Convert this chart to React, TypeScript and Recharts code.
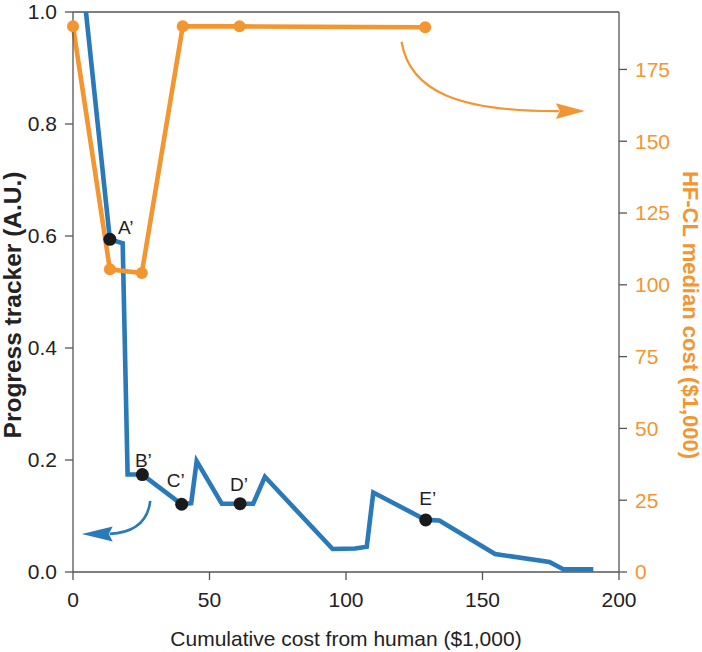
import React from "react";
import {
  ComposedChart,
  Line,
  Scatter,
  XAxis,
  YAxis,
  ReferenceLine,
  ReferenceDot,
  Label,
} from "recharts";

// ---- data ----
const progressCost = [0, 13.5, 18.2, 20.0, 25.4, 39.8, 43.3, 45.3, 54.5, 61.2, 66.0, 70.3, 95.1, 103.3, 107.6, 110.0, 129.2, 134.2, 154.6, 174.5, 179.6, 190.6];
const progressValue = [1.22, 0.594, 0.587, 0.174, 0.174, 0.121, 0.123, 0.198, 0.122, 0.122, 0.122, 0.17, 0.041, 0.042, 0.045, 0.142, 0.093, 0.092, 0.032, 0.018, 0.005, 0.005];

const medianX = [0, 13.5, 25.2, 40.2, 61.0, 129.0];
const medianCost = [190, 105.4, 104.1, 190, 190, 189.7];

const milestoneNames = ["A\u2019", "B\u2019", "C\u2019", "D\u2019", "E\u2019"];
const milestoneX = [13.5, 25.4, 39.8, 61.2, 129.2];
const milestoneY = [0.594, 0.174, 0.121, 0.122, 0.093];

const xTicks = [0, 50, 100, 150, 200];
const leftTicks = [0, 0.2, 0.4, 0.6, 0.8, 1.0];
const rightTicks = [0, 25, 50, 75, 100, 125, 150, 175];

// annotation arrow anchors (arrow tips, in data coordinates)
const blueArrowTip = { x: 3.2, y: 0.068 };
const orangeArrowTip = { x: 187.5, y: 160.5 };

// ---- styles ----
const BLUE = "#2a7ab9";
const ORANGE = "#f39530";
const AXIS = "#555555";
const TEXT = "#222222";
const FONT = "'Liberation Sans', Arial, Helvetica, sans-serif";
const TICK_SIZE = 21;

const labelOffsets: Record<string, [number, number]> = {
  "A\u2019": [16, -5],
  "B\u2019": [1, -8],
  "C\u2019": [-6, -17],
  "D\u2019": [-1, -13],
  "E\u2019": [2, -15],
};

const progressData = progressCost.map((x, i) => ({ x, y: progressValue[i] }));
const medianData = medianX.map((x, i) => ({ x, cost: medianCost[i] }));
const milestoneData = milestoneX.map((x, i) => ({ x, y: milestoneY[i], name: milestoneNames[i] }));

const MilestoneShape = (props: any) => {
  const { cx, cy, payload } = props;
  if (cx == null || cy == null) return null;
  const off = labelOffsets[payload.name] || [0, -13];
  return (
    <g>
      <circle cx={cx} cy={cy} r={6.5} fill="#1a1a1a" />
      <text x={cx + off[0]} y={cy + off[1]} textAnchor="middle" fontSize={19} fill={TEXT} fontFamily={FONT}>
        {payload.name}
      </text>
    </g>
  );
};

const BlueArrow = (props: any) => {
  const { cx, cy } = props;
  if (cx == null || cy == null) return null;
  return (
    <g>
      <path
        d={`M${cx + 68.5},${cy - 33} Q${cx + 65},${cy - 2} ${cx + 28},${cy}`}
        fill="none"
        stroke={BLUE}
        strokeWidth={2.6}
      />
      <path d={`M${cx},${cy} L${cx + 31},${cy - 7.5} L${cx + 27},${cy} L${cx + 31},${cy + 7.5} Z`} fill={BLUE} />
    </g>
  );
};

const OrangeArrow = (props: any) => {
  const { cx, cy } = props;
  if (cx == null || cy == null) return null;
  return (
    <g>
      <path
        d={`M${cx - 183.3},${cy - 69.3} C${cx - 175},${cy - 19} ${cx - 125},${cy + 0.5} ${cx - 26},${cy}`}
        fill="none"
        stroke={ORANGE}
        strokeWidth={2.2}
      />
      <path d={`M${cx},${cy} L${cx - 29},${cy - 7.8} L${cx - 25},${cy} L${cx - 29},${cy + 7.8} Z`} fill={ORANGE} />
    </g>
  );
};

const LeftAxisLabel = (props: any) => {
  const vb = props.viewBox || { x: 0, y: 12, width: 73, height: 560 };
  const x = vb.x + 21;
  const y = vb.y + vb.height / 2 + 13;
  return (
    <text x={x} y={y} transform={`rotate(-90, ${x}, ${y})`} textAnchor="middle" fontSize={24.5} fontWeight="bold" fill={TEXT} fontFamily={FONT}>
      Progress tracker (A.U.)
    </text>
  );
};

const RightAxisLabel = (props: any) => {
  const vb = props.viewBox || { x: 619, y: 12, width: 83, height: 560 };
  const x = vb.x + 64;
  const y = vb.y + vb.height / 2 + 23;
  return (
    <text x={x} y={y} transform={`rotate(90, ${x}, ${y})`} textAnchor="middle" fontSize={22} fontWeight="bold" fill={ORANGE} fontFamily={FONT}>
      HF-CL median cost ($1,000)
    </text>
  );
};

const BottomAxisLabel = (props: any) => {
  const vb = props.viewBox || { x: 73, y: 572, width: 546, height: 80 };
  const x = vb.x + vb.width / 2;
  const y = vb.y + 74;
  return (
    <text x={x} y={y} textAnchor="middle" fontSize={21} fill={TEXT} fontFamily={FONT}>
      Cumulative cost from human ($1,000)
    </text>
  );
};

export default function App() {
  return (
    <div style={{ fontFamily: FONT, width: 702, height: 652, background: "#fff" }}>
      <style>{`body{margin:0;background:#fff}`}</style>
      <ComposedChart width={702} height={652} margin={{ top: 12, right: 0, bottom: 0, left: 0 }}>
        <XAxis
          type="number"
          dataKey="x"
          domain={[0, 200]}
          ticks={xTicks}
          height={80}
          tickSize={8}
          tickMargin={12}
          axisLine={{ stroke: AXIS, strokeWidth: 1.3 }}
          tickLine={{ stroke: AXIS, strokeWidth: 1.3 }}
          tick={{ fill: TEXT, fontSize: TICK_SIZE }}
          interval={0}
        >
          <Label content={BottomAxisLabel} />
        </XAxis>
        <YAxis
          yAxisId="left"
          dataKey="y"
          type="number"
          domain={[0, 1]}
          allowDataOverflow
          ticks={leftTicks}
          tickFormatter={(v: number) => v.toFixed(1)}
          width={73}
          tickSize={8}
          tickMargin={8}
          axisLine={{ stroke: AXIS, strokeWidth: 1.3 }}
          tickLine={{ stroke: AXIS, strokeWidth: 1.3 }}
          tick={{ fill: TEXT, fontSize: TICK_SIZE }}
          interval={0}
        >
          <Label content={LeftAxisLabel} />
        </YAxis>
        <YAxis
          yAxisId="right"
          orientation="right"
          dataKey="cost"
          type="number"
          domain={[0, 195]}
          ticks={rightTicks}
          width={83}
          tickSize={8}
          tickMargin={8}
          axisLine={{ stroke: AXIS, strokeWidth: 1.3 }}
          tickLine={{ stroke: AXIS, strokeWidth: 1.3 }}
          tick={{ fill: ORANGE, fontSize: TICK_SIZE }}
          interval={0}
        >
          <Label content={RightAxisLabel} />
        </YAxis>
        <ReferenceLine yAxisId="left" y={1} stroke={AXIS} strokeWidth={1.3} />
        <Line
          yAxisId="left"
          data={progressData}
          dataKey="y"
          type="linear"
          stroke={BLUE}
          strokeWidth={4.6}
          dot={false}
          activeDot={false}
          isAnimationActive={false}
        />
        <Scatter
          yAxisId="left"
          data={milestoneData}
          dataKey="y"
          shape={MilestoneShape}
          isAnimationActive={false}
        />
        <Line
          yAxisId="right"
          data={medianData}
          dataKey="cost"
          type="linear"
          stroke={ORANGE}
          strokeWidth={4.6}
          dot={{ r: 6, fill: ORANGE, stroke: ORANGE, strokeWidth: 0 }}
          activeDot={false}
          isAnimationActive={false}
        />
        <ReferenceDot yAxisId="left" x={blueArrowTip.x} y={blueArrowTip.y} r={0} shape={BlueArrow} />
        <ReferenceDot yAxisId="right" x={orangeArrowTip.x} y={orangeArrowTip.y} r={0} shape={OrangeArrow} />
      </ComposedChart>
    </div>
  );
}
